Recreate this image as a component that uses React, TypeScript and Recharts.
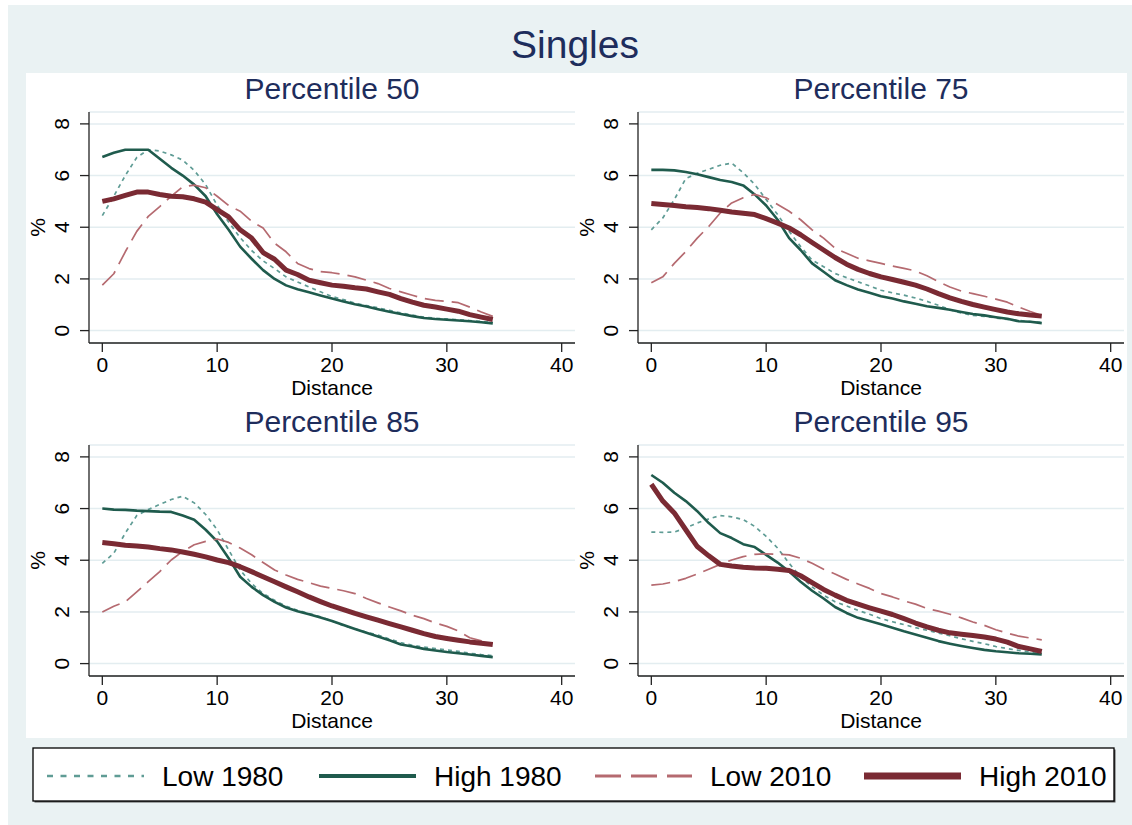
import React from "react"
import { LineChart, Line, XAxis, YAxis, CartesianGrid } from "recharts"

const FONT = '"Liberation Sans", Arial, Helvetica, sans-serif'

// distance bins on the x axis
const DISTANCE = [0, 1, 2, 3, 4, 5, 6, 7, 8, 9, 10, 11, 12, 13, 14, 15, 16, 17, 18, 19, 20, 21, 22, 23, 24, 25, 26, 27, 28, 29, 30, 31, 32, 33, 34]

const X_TICKS = [0, 10, 20, 30, 40]
const Y_TICKS = [0, 2, 4, 6, 8]

// Percentile 50
const p50Low1980 = [4.45, 5.2, 6.0, 6.7, 7.0, 6.95, 6.8, 6.6, 6.2, 5.65, 4.85, 4.2, 3.6, 3.1, 2.7, 2.4, 2.08, 1.88, 1.69, 1.5, 1.32, 1.2, 1.06, 0.97, 0.88, 0.78, 0.68, 0.6, 0.52, 0.48, 0.45, 0.42, 0.39, 0.35, 0.32]
const p50High1980 = [6.72, 6.88, 7.0, 7.0, 7.0, 6.65, 6.3, 6.0, 5.65, 5.2, 4.5, 3.9, 3.25, 2.78, 2.34, 2.0, 1.75, 1.6, 1.48, 1.36, 1.24, 1.13, 1.02, 0.93, 0.83, 0.73, 0.64, 0.56, 0.49, 0.45, 0.42, 0.39, 0.36, 0.32, 0.28]
const p50Low2010 = [1.76, 2.2, 3.05, 3.84, 4.42, 4.8, 5.2, 5.57, 5.63, 5.53, 5.2, 4.84, 4.62, 4.23, 3.97, 3.38, 3.05, 2.6, 2.4, 2.28, 2.24, 2.17, 2.08, 1.95, 1.82, 1.63, 1.5, 1.37, 1.24, 1.17, 1.13, 1.08, 0.91, 0.72, 0.55]
const p50High2010 = [5.0, 5.1, 5.23, 5.36, 5.36, 5.27, 5.2, 5.18, 5.1, 4.97, 4.68, 4.4, 3.9, 3.58, 3.02, 2.76, 2.34, 2.17, 1.95, 1.85, 1.76, 1.72, 1.66, 1.61, 1.5, 1.4, 1.24, 1.1, 0.98, 0.91, 0.83, 0.75, 0.62, 0.52, 0.43]

// Percentile 75
const p75Low1980 = [3.9, 4.36, 5.07, 5.88, 6.09, 6.24, 6.4, 6.48, 6.11, 5.66, 5.07, 4.49, 3.84, 3.25, 2.73, 2.47, 2.21, 2.05, 1.89, 1.73, 1.56, 1.46, 1.37, 1.26, 1.13, 0.98, 0.81, 0.68, 0.59, 0.55, 0.49, 0.43, 0.39, 0.35, 0.31]
const p75High1980 = [6.22, 6.22, 6.2, 6.14, 6.05, 5.94, 5.83, 5.75, 5.62, 5.27, 4.84, 4.29, 3.58, 3.12, 2.6, 2.28, 1.95, 1.76, 1.59, 1.46, 1.33, 1.24, 1.13, 1.04, 0.94, 0.88, 0.81, 0.72, 0.64, 0.59, 0.52, 0.46, 0.36, 0.34, 0.29]
const p75Low2010 = [1.85, 2.08, 2.6, 3.06, 3.58, 4.03, 4.55, 4.94, 5.14, 5.27, 5.14, 4.88, 4.62, 4.29, 3.9, 3.58, 3.19, 2.99, 2.8, 2.7, 2.6, 2.5, 2.41, 2.31, 2.12, 1.89, 1.69, 1.53, 1.43, 1.33, 1.22, 1.1, 0.91, 0.74, 0.59]
const p75High2010 = [4.92, 4.88, 4.84, 4.79, 4.76, 4.72, 4.66, 4.59, 4.54, 4.49, 4.33, 4.16, 3.97, 3.71, 3.41, 3.12, 2.83, 2.57, 2.37, 2.21, 2.08, 1.98, 1.87, 1.76, 1.61, 1.43, 1.27, 1.13, 1.01, 0.91, 0.81, 0.72, 0.65, 0.6, 0.56]

// Percentile 85
const p85Low1980 = [3.88, 4.27, 5.05, 5.73, 5.96, 6.16, 6.35, 6.48, 6.22, 5.77, 5.18, 4.4, 3.62, 3.1, 2.71, 2.45, 2.22, 2.06, 1.94, 1.81, 1.65, 1.47, 1.34, 1.22, 1.1, 0.95, 0.81, 0.71, 0.64, 0.58, 0.53, 0.47, 0.4, 0.35, 0.31]
const p85High1980 = [6.0, 5.96, 5.95, 5.92, 5.9, 5.88, 5.87, 5.73, 5.57, 5.18, 4.73, 4.08, 3.36, 2.97, 2.65, 2.39, 2.17, 2.03, 1.91, 1.78, 1.65, 1.49, 1.34, 1.19, 1.05, 0.9, 0.74, 0.66, 0.57, 0.51, 0.45, 0.4, 0.35, 0.3, 0.25]
const p85Low2010 = [2.0, 2.22, 2.39, 2.78, 3.17, 3.56, 4.01, 4.34, 4.6, 4.73, 4.82, 4.69, 4.47, 4.21, 3.91, 3.62, 3.43, 3.26, 3.13, 3.0, 2.91, 2.82, 2.71, 2.52, 2.35, 2.19, 2.04, 1.87, 1.74, 1.57, 1.44, 1.26, 1.0, 0.88, 0.78]
const p85High2010 = [4.69, 4.64, 4.58, 4.55, 4.51, 4.45, 4.4, 4.32, 4.23, 4.13, 4.01, 3.91, 3.75, 3.56, 3.36, 3.17, 2.97, 2.78, 2.58, 2.4, 2.23, 2.09, 1.94, 1.81, 1.68, 1.55, 1.42, 1.29, 1.16, 1.05, 0.97, 0.9, 0.84, 0.79, 0.74]

// Percentile 95
const p95Low1980 = [5.09, 5.08, 5.09, 5.25, 5.44, 5.6, 5.73, 5.68, 5.57, 5.31, 4.92, 4.47, 3.88, 3.36, 2.97, 2.65, 2.39, 2.23, 2.06, 1.91, 1.74, 1.62, 1.51, 1.39, 1.29, 1.18, 1.08, 0.96, 0.86, 0.77, 0.66, 0.58, 0.51, 0.45, 0.4]
const p95High1980 = [7.3, 7.0, 6.61, 6.29, 5.9, 5.44, 5.05, 4.86, 4.62, 4.51, 4.21, 3.91, 3.56, 3.17, 2.82, 2.52, 2.19, 1.96, 1.77, 1.65, 1.52, 1.39, 1.25, 1.13, 1.0, 0.87, 0.77, 0.68, 0.6, 0.53, 0.48, 0.44, 0.4, 0.38, 0.35]
const p95Low2010 = [3.04, 3.08, 3.17, 3.3, 3.47, 3.65, 3.84, 4.01, 4.14, 4.23, 4.25, 4.23, 4.21, 4.08, 3.88, 3.65, 3.47, 3.26, 3.08, 2.91, 2.71, 2.58, 2.43, 2.3, 2.13, 2.03, 1.91, 1.77, 1.61, 1.48, 1.31, 1.18, 1.06, 0.99, 0.92]
const p95High2010 = [6.94, 6.29, 5.83, 5.18, 4.53, 4.17, 3.84, 3.78, 3.73, 3.7, 3.69, 3.65, 3.6, 3.4, 3.13, 2.87, 2.65, 2.45, 2.3, 2.16, 2.03, 1.9, 1.74, 1.57, 1.42, 1.29, 1.19, 1.14, 1.09, 1.03, 0.95, 0.83, 0.66, 0.57, 0.47]

// plot styling plus the (heavier) key sample styling
const SERIES = [
    { key: "low1980", label: "Low 1980", color: "#5f9c95", width: 1.7, dash: "4 4", keyWidth: 2.6, keyDash: "6 7.5" },
    { key: "high1980", label: "High 1980", color: "#1f5b4d", width: 2.6, dash: undefined, keyWidth: 4, keyDash: undefined },
    { key: "low2010", label: "Low 2010", color: "#b56a70", width: 1.7, dash: "19 8", keyWidth: 3, keyDash: "26 10" },
    { key: "high2010", label: "High 2010", color: "#7a2a33", width: 5, dash: undefined, keyWidth: 7, keyDash: undefined },
]

const buildRows = (low80: number[], high80: number[], low10: number[], high10: number[]) =>
    DISTANCE.map((d, i) => ({ d, low1980: low80[i], high1980: high80[i], low2010: low10[i], high2010: high10[i] }))

// panel geometry (page coordinates)
const YW = 63
const MT = 39
const XH = 60
const PLOT_W = 486
const PLOT_H = 231
const CHART_W = YW + PLOT_W + 2
const CHART_H = MT + PLOT_H + XH

const PANELS = [
    { title: "Percentile 50", left: 26, top: 73, rows: buildRows(p50Low1980, p50High1980, p50Low2010, p50High2010) },
    { title: "Percentile 75", left: 575, top: 73, rows: buildRows(p75Low1980, p75High1980, p75Low2010, p75High2010) },
    { title: "Percentile 85", left: 26, top: 406, rows: buildRows(p85Low1980, p85High1980, p85Low2010, p85High2010) },
    { title: "Percentile 95", left: 575, top: 406, rows: buildRows(p95Low1980, p95High1980, p95Low2010, p95High2010) },
]

const AXIS = "#222"
const TITLE = "#1e2d5c"

const XTick = (props: any) => (
    <text x={props.x} y={props.y} dy={18} textAnchor="middle" fontSize={21} fontFamily={FONT} fill="#000">
        {props.payload.value}
    </text>
)

const YTick = (props: any) => {
    const bx = props.x - 8.5
    return (
        <text x={bx} y={props.y} transform={`rotate(-90, ${bx}, ${props.y})`} textAnchor="middle" fontSize={21} fontFamily={FONT} fill="#000">
            {props.payload.value}
        </text>
    )
}

function Panel({ left, top, rows }: { left: number; top: number; rows: any[] }) {
    return (
        <div style={{ position: "absolute", left, top, width: CHART_W, height: CHART_H }}>
            <LineChart width={CHART_W} height={CHART_H} data={rows} margin={{ top: MT, right: 2, left: 0, bottom: 0 }}>
                <CartesianGrid vertical={false} stroke="#e3edf0" strokeWidth={1.5} />
                <XAxis
                    dataKey="d"
                    type="number"
                    domain={[-1.16, 41.16]}
                    ticks={X_TICKS}
                    allowDataOverflow
                    height={XH}
                    tickSize={9}
                    tick={XTick}
                    tickLine={{ stroke: AXIS, strokeWidth: 1.3 }}
                    axisLine={{ stroke: AXIS, strokeWidth: 1.3 }}
                    label={{ value: "Distance", position: "insideBottom", offset: 8, fontSize: 21, fontFamily: FONT, fill: "#000" }}
                />
                <YAxis
                    type="number"
                    domain={[-0.48, 8.46]}
                    ticks={Y_TICKS}
                    allowDataOverflow
                    width={YW}
                    tickSize={9}
                    tick={YTick}
                    tickLine={{ stroke: AXIS, strokeWidth: 1.3 }}
                    axisLine={{ stroke: AXIS, strokeWidth: 1.3 }}
                />
                {SERIES.map(s => (
                    <Line
                        key={s.key}
                        type="linear"
                        dataKey={s.key}
                        stroke={s.color}
                        strokeWidth={s.width}
                        strokeDasharray={s.dash}
                        strokeLinejoin="round"
                        dot={false}
                        activeDot={false}
                        isAnimationActive={false}
                    />
                ))}
            </LineChart>
        </div>
    )
}

// key sample positions along the bottom box
const LEGEND_X = [47, 319, 595, 864]

export default function App() {
    return (
        <div style={{ position: "absolute", left: 0, top: 0, width: 1132, height: 825, background: "#fff", fontFamily: FONT }}>
            <svg width={1132} height={825} style={{ position: "absolute", left: 0, top: 0 }}>
                <rect x={8} y={5} width={1124} height={820} fill="#eaf2f3" />
                <rect x={26} y={73} width={1101} height={665} fill="#fff" />
                <text x={575} y={58} textAnchor="middle" fontSize={39} fontFamily={FONT} fill={TITLE}>Singles</text>
                {PANELS.map(p => {
                    const plotLeft = p.left + YW
                    const plotTop = p.top + MT
                    const cy = plotTop + PLOT_H / 2
                    return (
                        <g key={p.title}>
                            <text x={plotLeft + PLOT_W / 2} y={p.top + 25.5} textAnchor="middle" fontSize={30} fontFamily={FONT} fill={TITLE}>{p.title}</text>
                            <text x={plotLeft - 44} y={cy} transform={`rotate(-90, ${plotLeft - 44}, ${cy})`} textAnchor="middle" fontSize={21} fontFamily={FONT} fill="#000">%</text>
                        </g>
                    )
                })}
                <rect x={34.5} y={749.5} width={1081} height={53} fill="#555" />
                <rect x={33} y={748} width={1081} height={53} fill="#fff" stroke="#000" strokeWidth={1.3} />
                {SERIES.map((s, i) => (
                    <g key={s.key}>
                        <line x1={LEGEND_X[i]} x2={LEGEND_X[i] + 97} y1={776} y2={776} stroke={s.color} strokeWidth={s.keyWidth} strokeDasharray={s.keyDash} />
                        <text x={LEGEND_X[i] + 115} y={786} fontSize={28} fontFamily={FONT} fill="#000">{s.label}</text>
                    </g>
                ))}
            </svg>
            {PANELS.map(p => (
                <Panel key={p.title} left={p.left} top={p.top} rows={p.rows} />
            ))}
        </div>
    )
}
